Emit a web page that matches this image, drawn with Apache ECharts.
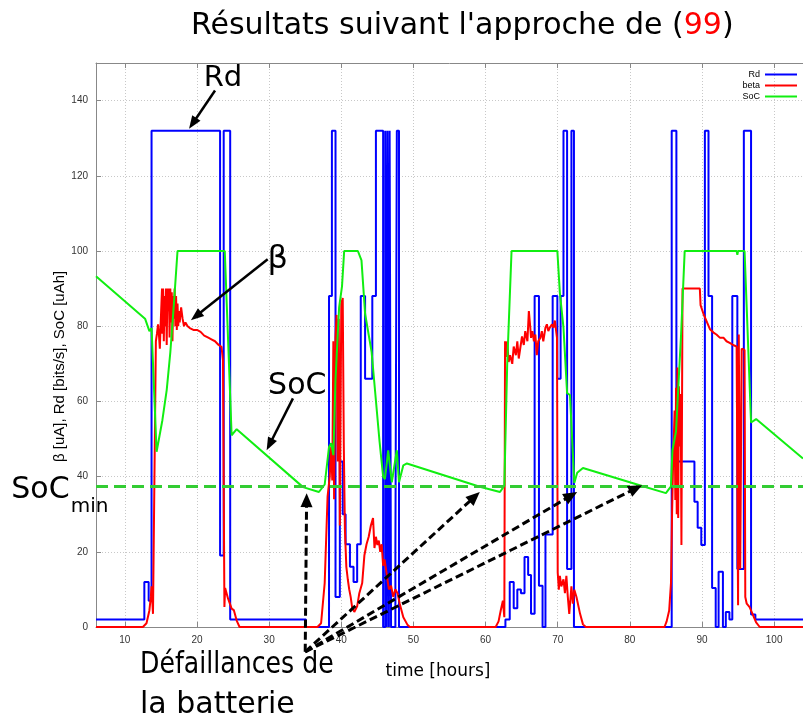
<!DOCTYPE html>
<html>
<head>
<meta charset="utf-8">
<script src="https://cdn.jsdelivr.net/npm/echarts@6/dist/echarts.min.js"></script>
<style>
  html, body { margin: 0; padding: 0; background: #fff; }
  #chart { width: 803px; height: 719px; }
</style>
</head>
<body>
<div id="chart"></div>
<script>
// Rd [bits/s] : step curve, value holds from each time until the next one
const rdTime = [6, 12.7, 13.3, 13.7, 23.2, 23.7, 24.6, 35.1, 38.3, 38.7, 39.2, 39.8, 40.2, 40.6, 41.2, 41.7,
  42.2, 42.7, 43.3, 44.3, 44.8, 45.8, 46.1, 46.3, 46.4, 46.6, 46.7, 46.9, 47.5, 47.7, 48.0,
  62.75, 63.35, 63.9, 64.4, 64.9, 65.4, 65.9, 66.3, 66.8, 67.4, 67.9, 68.3, 69.3, 69.95, 70.4, 70.8, 71.3, 71.9, 72.25,
  85.8, 86.45, 88.95, 89.4, 89.9, 90.4, 90.9, 91.4, 91.9, 92.3, 92.9, 93.3, 93.8, 94.2, 94.9, 95.8, 96.8, 97.4, 104];
const rdValue = [2, 12, 7, 132, 19, 132, 2, 0, 88, 132, 8, 44, 30, 22, 16, 12,
  22, 88, 66, 88, 132, 0, 132, 0, 132, 0, 132, 0, 20, 132, 0,
  2, 12, 5, 10, 9, 18.6, 13.8, 3.5, 88, 11, 0, 24.6, 88, 66, 88, 132, 15.4, 132, 0,
  132, 44, 33.3, 26.4, 21.8, 132, 88, 10.4, 0, 14.7, 0, 4, 2, 88, 15.4, 132, 3.3, 2, 2];

// beta [uA]
const betaTime = [6, 12.5, 13.0, 13.4, 13.6, 13.7, 13.9, 14.15, 14.3, 14.45, 14.6, 14.75, 14.85, 14.95, 15.05, 15.15,
  15.2, 15.3, 15.4, 15.5, 15.6, 15.7, 15.8, 15.9, 16.0, 16.1, 16.2, 16.3, 16.4, 16.5, 16.6, 16.7, 16.8, 16.9,
  17.0, 17.1, 17.2, 17.3, 17.4, 17.5, 17.6, 17.8, 18.0, 18.2, 18.4, 18.7, 19.0, 19.5, 20.0, 20.5, 21.0, 21.5,
  22.0, 22.5, 23.0, 23.4, 23.6, 23.8, 23.9, 24.3, 24.8, 25.1, 25.5, 25.9,
  36.7, 37.2, 37.7, 38.1, 38.4, 38.6, 38.75, 38.9, 39.0, 39.2, 39.35, 39.5, 39.65, 39.8, 40.0, 40.2, 40.35,
  40.5, 40.7, 40.9, 41.1, 41.3, 41.5, 41.8, 42.0, 42.2, 42.5, 42.9, 43.2, 43.5, 43.8, 44.1, 44.4, 44.6, 44.8,
  45.0, 45.2, 45.4, 45.6, 45.8, 46.0, 46.3, 46.6, 46.9, 47.2, 47.5, 47.8, 48.1, 48.6, 49.2, 49.5,
  61.4, 61.8, 62.1, 62.4, 62.6, 62.7, 62.85, 63.0, 63.2, 63.4, 63.7, 63.9, 64.2, 64.4, 64.6, 64.8, 65.05,
  65.3, 65.5, 65.8, 66.0, 66.2, 66.3, 66.5, 66.7, 66.9, 67.1, 67.3, 67.6, 67.8, 68.0, 68.3, 68.5, 68.7,
  68.9, 69.2, 69.4, 69.6, 69.9, 70.0, 70.15, 70.3, 70.5, 70.8, 71.0, 71.2, 71.4, 71.6, 71.9, 72.1, 72.3,
  72.6, 73.1, 73.5, 73.9,
  84.8, 85.1, 85.45, 85.7, 85.85, 86.0, 86.2, 86.3, 86.4, 86.5, 86.6, 86.7, 86.8, 86.95, 87.05, 87.15, 87.3,
  89.7, 89.8, 90.2, 90.7, 91.1, 91.6, 92.0, 92.5, 93.0, 93.4, 93.9, 94.3, 94.8, 95.0, 95.1, 95.3, 95.5,
  95.9, 96.0, 96.2, 96.6, 97.0, 97.5, 98.0, 104];
const betaValue = [0, 0, 1, 4.4, 8, 10.8, 3.5, 4, 76, 78, 80.5, 77, 74, 80, 85, 90,
  78, 90, 76, 88, 80, 90, 75, 90, 84, 90, 77, 90, 81, 89, 76, 88, 82, 90,
  80, 88, 79, 86, 80, 84, 81, 85, 82, 80, 81, 80, 79.5, 79, 79, 78.5, 77.5, 77,
  76.5, 76, 75, 74.5, 71, 5.3, 10.4, 7.6, 4.9, 4.5, 1.7, 0,
  0, 1, 11.7, 34.7, 40, 48, 39, 76, 34, 77, 83, 44, 82, 27, 86, 87.5, 48,
  26, 16, 12.7, 10, 8, 5.3, 4, 3.5, 5.5, 9, 11.7, 19, 22, 24, 27, 29, 21, 24,
  21.8, 23, 20, 22, 16.3, 18, 14, 10, 11, 8, 10, 9, 6.2, 2.6, 0.5, 0,
  0, 1.5, 4.4, 7, 2.6, 76, 71.8, 76, 70.5, 72.3, 70, 74.6, 72.3, 76, 71.4, 74, 77.3,
  75, 78.7, 76, 84, 79.6, 76.9, 78.7, 76, 77.8, 72.3, 76, 76.9, 78.7, 76, 79.6, 80.5, 78.7,
  79.6, 80.5, 79.6, 81.5, 76.9, 14.5, 9.9, 13.6, 10.8, 12.7, 9, 13.6, 8, 3.5, 10.8, 6.2, 9.9,
  8, 3.5, 0.7, 0,
  0, 1.5, 4.4, 11.7, 30, 44, 57.6, 33.8, 63.6, 30, 69, 29, 64, 48, 62, 21.8, 90,
  90, 85.6, 83.3, 81, 79.2, 78.3, 77.8, 76.9, 76.9, 76, 75.5, 75, 74.6, 5.8, 77.8, 15.4, 74,
  73.7, 8, 6.2, 5.3, 3.5, 1.2, 0, 0];

// SoC [uAh]
const socTime = [6, 12.8, 13.4, 13.7, 14.4, 15.2, 15.8, 16.3, 16.8, 17.3, 23.85, 24.8, 25.5, 34.7, 36.9, 37.7,
  38.3, 38.6, 38.9, 39.2, 39.7, 40.1, 40.4, 42.3, 42.8, 43.3, 44.2, 45.3, 45.8, 46.05, 46.5, 47.0, 47.7, 48.0,
  48.6, 49.1, 59.2, 62.0, 62.6, 63.0, 63.6, 69.95, 70.3, 70.8, 71.3, 71.7, 72.3, 72.7, 73.5, 81.7, 85.0,
  85.7, 85.9, 86.4, 86.8, 87.1, 87.6, 94.8, 94.9, 95.0, 95.9, 96.8, 97.5, 104];
const socValue = [93.3, 82, 78.7, 79.5, 46.6, 55, 63, 73, 86, 100, 100, 51, 52.6, 37.2, 35.9, 37.9,
  47.9, 48.9, 45.7, 65.9, 85, 90.6, 100, 100, 97.5, 83.3, 73.2, 49.4, 40, 39.3, 47, 38.5, 47, 38.5,
  43, 43.5, 37.3, 35.9, 37.6, 70, 100, 100, 88.8, 79.6, 62.2, 61.7, 38.3, 41, 42.3, 37.5, 35.6,
  37.4, 47, 52, 66.8, 77.8, 100, 100, 99, 100, 100, 54.4, 55.3, 44.8];

const socMin = 37.5;
const seriesNames = ['Rd', 'beta', 'SoC'];
const xRange = [6, 104];
const yRange = [0, 150];

const pairs = (ts, vs) => ts.map((t, i) => [t, vs[i]]);

const chart = echarts.init(document.getElementById('chart'));

const tickFont = { fontSize: 10, color: '#333', fontFamily: 'Liberation Sans' };
const gridLine = { show: true, lineStyle: { color: '#c8c8c8', type: [1, 2], width: 1 } };

chart.setOption({
  animation: false,
  backgroundColor: '#fff',
  title: {
    text: "Résultats suivant l'approche de ({r|99})",
    left: 191,
    top: 11,
    padding: 0,
    textStyle: {
      fontFamily: 'DejaVu Sans', fontSize: 30, fontWeight: 'normal', color: '#000',
      rich: { r: { fontFamily: 'DejaVu Sans', fontSize: 30, color: '#ff0000' } }
    }
  },
  legend: {
    data: seriesNames,
    orient: 'vertical',
    align: 'right',
    right: 6,
    top: 69,
    padding: 0,
    icon: 'rect',
    itemWidth: 32,
    itemHeight: 2,
    itemGap: 0,
    textStyle: { fontSize: 9, lineHeight: 11, fontFamily: 'Liberation Sans', color: '#000' }
  },
  grid: { left: 96, right: 0, top: 63, bottom: 92 },
  xAxis: [
    {
      type: 'value', min: xRange[0], max: xRange[1], splitNumber: 10, minInterval: 10, maxInterval: 10,
      axisLine: { show: true, lineStyle: { color: '#888' } },
      axisTick: { show: true, inside: true, length: 5, lineStyle: { color: '#888' } },
      axisLabel: Object.assign({ margin: 8, showMinLabel: false, showMaxLabel: false }, tickFont),
      splitLine: gridLine
    },
    {
      type: 'value', position: 'top', min: xRange[0], max: xRange[1], splitNumber: 10, minInterval: 10, maxInterval: 10,
      axisLine: { show: true, lineStyle: { color: '#888' } },
      axisTick: { show: true, inside: true, length: 5, lineStyle: { color: '#888' } },
      axisLabel: { show: false },
      splitLine: { show: false }
    }
  ],
  yAxis: {
    type: 'value', min: yRange[0], max: yRange[1], interval: 20,
    axisLine: { show: true, lineStyle: { color: '#888' } },
    axisTick: { show: true, inside: true, length: 5, lineStyle: { color: '#888' } },
    axisLabel: Object.assign({ margin: 8, showMaxLabel: false }, tickFont),
    splitLine: gridLine
  },
  series: [
    {
      name: 'Rd', type: 'line', step: 'end', symbol: 'none',
      data: pairs(rdTime, rdValue),
      lineStyle: { color: '#0000ff', width: 2 },
      itemStyle: { color: '#0000ff' }
    },
    {
      name: 'beta', type: 'line', symbol: 'none',
      data: pairs(betaTime, betaValue),
      lineStyle: { color: '#ff0000', width: 2 },
      itemStyle: { color: '#ff0000' }
    },
    {
      name: 'SoC', type: 'line', symbol: 'none',
      data: pairs(socTime, socValue),
      lineStyle: { color: '#11ee11', width: 2 },
      itemStyle: { color: '#11ee11' },
      markLine: {
        silent: true, symbol: 'none', animation: false,
        label: { show: false },
        lineStyle: { color: '#33cc33', type: [12, 6], width: 3 },
        data: [{ yAxis: socMin }]
      }
    }
  ]
});

// annotations, placed in data coordinates (time, value)
const notes = [
  { text: 'Rd', at: [23.6, 146], size: 29 },
  { text: 'β', at: [31.2, 97.8], size: 32 },
  { text: 'SoC', at: [33.9, 64], size: 30 },
  { text: 'SoC', at: [-1.7, 36.4], size: 30 },
  { text: 'min', at: [5.1, 32.1], size: 20 },
  { text: 'Défaillances de', at: [12.1, -10.1], size: 30, align: 'left', sx: 0.84 },
  { text: 'la batterie', at: [12.1, -20.7], size: 30, align: 'left' },
  { text: 'time [hours]', at: [53.4, -11.8], size: 17 }
];
const arrows = [
  { from: [22.5, 142.7], to: [18.9, 132.5], dashed: false },
  { from: [29.8, 97.8], to: [19.15, 81.6], dashed: false },
  { from: [33.3, 60.8], to: [29.65, 47.0], dashed: false },
  { from: [35.0, -6.6], to: [35.2, 35.6], dashed: true },
  { from: [35.0, -6.6], to: [59.2, 35.9], dashed: true },
  { from: [35.0, -6.6], to: [72.7, 35.9], dashed: true },
  { from: [35.0, -6.6], to: [81.7, 37.7], dashed: true }
];

function toPx(p) {
  return chart.convertToPixel({ xAxisIndex: 0, yAxisIndex: 0 }, p);
}

const els = [];
notes.forEach(n => {
  const p = toPx(n.at);
  els.push({
    type: 'text', x: p[0], y: p[1], z: 100, scaleX: n.sx || 1,
    style: {
      text: n.text, fontSize: n.size, fontFamily: 'DejaVu Sans', fill: '#000',
      align: n.align || 'center', verticalAlign: 'middle'
    }
  });
});
// y axis title
const yName = toPx([1.0, 69.3]);
els.push({
  type: 'text', x: yName[0], y: yName[1], rotation: Math.PI / 2, z: 100,
  style: {
    text: 'β [uA], Rd [bits/s], SoC [uAh]', fontSize: 15, fontFamily: 'Liberation Sans',
    fill: '#000', align: 'center', verticalAlign: 'middle'
  }
});
arrows.forEach(a => {
  const p0 = toPx(a.from), p1 = toPx(a.to);
  const dx = p1[0] - p0[0], dy = p1[1] - p0[1];
  const len = Math.sqrt(dx * dx + dy * dy);
  const ux = dx / len, uy = dy / len;
  const head = a.dashed ? 14 : 13, half = a.dashed ? 6 : 5;
  const bx = p1[0] - ux * head, by = p1[1] - uy * head;
  els.push({
    type: 'line', z: 100,
    shape: { x1: p0[0], y1: p0[1], x2: bx + ux * 2, y2: by + uy * 2 },
    style: { stroke: '#000', lineWidth: a.dashed ? 3 : 2.5, lineDash: a.dashed ? [8, 4] : null }
  });
  els.push({
    type: 'polygon', z: 100,
    shape: { points: [[p1[0], p1[1]], [bx - uy * half, by + ux * half], [bx + uy * half, by - ux * half]] },
    style: { fill: '#000' }
  });
});
chart.setOption({ graphic: els });
</script>
</body>
</html>
